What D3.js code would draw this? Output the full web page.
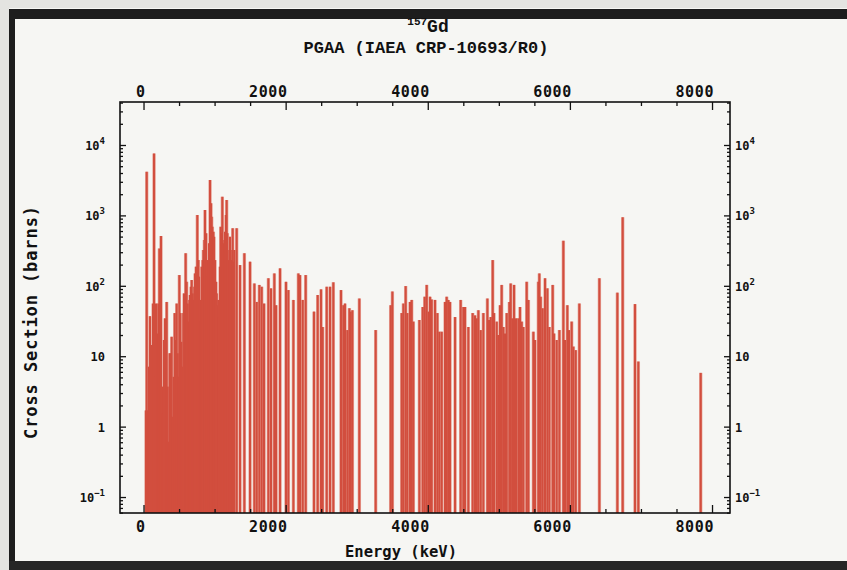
<!DOCTYPE html>
<html><head><meta charset="utf-8">
<script src="https://cdn.jsdelivr.net/npm/d3@7"></script>
<style>
body{margin:0;background:#f6f6f3;}
svg{display:block;}
</style>
</head><body>
<svg id="chart" width="847" height="570"></svg>
<script>
// ---------- data ----------
const isotopeMass = "157";
const isotopeSymbol = "Gd";
const subtitle = "PGAA (IAEA CRP-10693/R0)";
const xTitle = "Energy (keV)";
const yTitle = "Cross Section (barns)";
const xLabelValues = [0, 2000, 4000, 6000, 8000];
const xLabelTexts = ["0", "2000", "4000", "6000", "8000"];
const yLabelValues = [0.1, 1, 10, 100, 1000, 10000];
const yLabelBase = ["10", "1", "10", "10", "10", "10"];
const yLabelExp = ["\u22121", "", "", "2", "3", "4"];

// gamma line energies (keV) and partial cross sections (barns)
const energies = [
  35,45,63,77,91,106,120,134,148,162,176,195,209,223,237,246,260,274,288,303,
  317,326,340,354,368,382,396,410,424,439,453,467,481,495,504,518,532,546,560,570,
  584,593,607,621,631,645,654,668,678,692,701,715,725,739,757,772,781,795,804,819,
  833,842,856,865,880,894,903,913,922,936,950,959,969,983,992,1006,1020,1030,1039,1053,
  1062,1077,1086,1100,1109,1123,1137,1147,1161,1170,1180,1194,1208,1217,1227,1241,1255,1269,1278,
  1311,1358,1419,1499,1560,1593,1630,1663,1696,1757,1794,1841,1865,1921,2005,2038,2109,2179,2202,2240,
  2282,2399,2451,2498,2521,2578,2625,2671,
  2779,2812,2835,2868,2897,2915,2939,3037,3267,3478,3502,3633,3657,3689,3713,3750,3774,3797,3882,3929,
  3957,3985,4013,4032,4055,4102,4135,4163,4196,4243,4266,4290,4313,4384,4463,4501,4524,4571,4632,4665,
  4688,4712,4745,4782,4839,4862,4886,4914,4932,4970,4993,5017,5040,5064,5087,5111,5148,5167,5190,5214,
  5242,5275,5298,5322,5345,5392,5416,5486,5509,5556,5570,5589,5617,5650,5683,5711,5758,5777,5814,5852,
  5908,5932,5964,5988,6025,6049,6082,6133,6415,6668,6743,6916,6963,7841
];
const crossSections = [
  1.7,4180,1.7,7.1,37,14.4,14.4,56,7600,5.1,56,21,56,340,21,510,3.7,1.54,17,34.5,
  17,59,3.7,0.61,11,11,18.9,1.38,5.1,41,17,56,11,5.1,142,41,16,7.1,41,78,
  63,289,114,56,31,63,74,97,121,78,63,97,150,187,1014,232,135,63,31,187,
  232,322,447,1194,556,232,135,232,401,3180,1485,960,692,587,499,232,114,78,53,63,
  36,187,692,556,1845,401,447,587,1014,1655,556,232,322,499,322,232,655,220,322,
  655,197,289,220,108,59,103,97,56,128,92,150,53,177,114,87,63,150,142,63,
  142,43,74,89,26,97,97,112,
  87,53,56,23.5,48,43,45,66,23.5,53,83,41,56,99,41,59,63,31,32.7,50,
  70,103,43,70,64,63,41,22.3,22.3,59,70,63,59,36,63,50,50,26,41,38,
  34.5,45,23.5,41,66,32.7,36,232,41,31,20,53,103,26,21,41,59,108,34.5,103,
  34.5,34.5,50,31,26,114,63,22.3,17,114,150,70,48,128,92,26,103,21,17,23.5,
  437,17,53,23.5,31,13.7,12.2,56,128,80,938,55,8.4,5.8
];

// ---------- layout ----------
const W = 847, H = 570;
const plot = {left: 120, right: 730, top: 102, bottom: 513};
const svg = d3.select("#chart");

// scanned page border
svg.append("rect").attr("x",0).attr("y",0).attr("width",W).attr("height",H).attr("fill","#f6f6f3");
svg.append("rect").attr("x",0).attr("y",0).attr("width",W).attr("height",8).attr("fill","#e4e4e1");
svg.append("rect").attr("x",0).attr("y",0).attr("width",9).attr("height",H).attr("fill","#e4e4e1");
svg.append("rect").attr("x",9).attr("y",9).attr("width",W-9).attr("height",10).attr("fill","#1d1d1d");
svg.append("rect").attr("x",9).attr("y",9).attr("width",6).attr("height",H-9).attr("fill","#1d1d1d");
svg.append("rect").attr("x",9).attr("y",561).attr("width",W-9).attr("height",9).attr("fill","#262626");

const x = d3.scaleLinear().domain([-331, 8253]).range([plot.left, plot.right]);
const y = d3.scaleLog().domain([0.0593, 40800]).range([plot.bottom, plot.top]);

const data = energies.map((e,i)=>({e, v: crossSections[i]}));

// clip
svg.append("clipPath").attr("id","clip").append("rect")
  .attr("x",plot.left).attr("y",plot.top)
  .attr("width",plot.right-plot.left).attr("height",plot.bottom-plot.top);

const gLines = svg.append("g").attr("clip-path","url(#clip)");
gLines.selectAll("line.halo").data(data).join("line")
  .attr("class","halo")
  .attr("x1",d=>x(d.e)).attr("x2",d=>x(d.e))
  .attr("y1",plot.bottom).attr("y2",d=>y(d.v))
  .attr("stroke","#e9aca1").attr("stroke-width",3.4);
gLines.selectAll("line.peak").data(data).join("line")
  .attr("class","peak")
  .attr("x1",d=>x(d.e)).attr("x2",d=>x(d.e))
  .attr("y1",plot.bottom).attr("y2",d=>y(d.v))
  .attr("stroke","#d24e3e").attr("stroke-width",2.1);

// ---------- axes ----------
const majorX = xLabelValues;
const minorX = d3.range(0, 8251, 500).filter(v=>!majorX.includes(v));
const decades = yLabelValues;
const minorY = [];
[-2,-1,0,1,2,3,4].forEach(p=>{ for(let k=2;k<=9;k++){ const v=k*Math.pow(10,p); if(v>=0.0593 && v<=40800) minorY.push(v);} });

function styleAxis(g){
  g.select(".domain").remove();
  g.selectAll(".tick line").attr("stroke","#111").attr("stroke-width",1.3);
}
svg.append("g").attr("transform",`translate(0,${plot.bottom})`)
  .call(d3.axisBottom(x).tickValues(majorX).tickSize(-8).tickFormat("")).call(styleAxis);
svg.append("g").attr("transform",`translate(0,${plot.bottom})`)
  .call(d3.axisBottom(x).tickValues(minorX).tickSize(-4).tickFormat("")).call(styleAxis);
svg.append("g").attr("transform",`translate(0,${plot.top})`)
  .call(d3.axisTop(x).tickValues(majorX).tickSize(-8).tickFormat("")).call(styleAxis);
svg.append("g").attr("transform",`translate(0,${plot.top})`)
  .call(d3.axisTop(x).tickValues(minorX).tickSize(-4).tickFormat("")).call(styleAxis);
svg.append("g").attr("transform",`translate(${plot.left},0)`)
  .call(d3.axisLeft(y).tickValues(decades).tickSize(-6).tickFormat("")).call(styleAxis);
svg.append("g").attr("transform",`translate(${plot.left},0)`)
  .call(d3.axisLeft(y).tickValues(minorY).tickSize(-3).tickFormat("")).call(styleAxis);
svg.append("g").attr("transform",`translate(${plot.right},0)`)
  .call(d3.axisRight(y).tickValues(decades).tickSize(-6).tickFormat("")).call(styleAxis);
svg.append("g").attr("transform",`translate(${plot.right},0)`)
  .call(d3.axisRight(y).tickValues(minorY).tickSize(-3).tickFormat("")).call(styleAxis);

// frame
svg.append("rect").attr("x",plot.left).attr("y",plot.top)
  .attr("width",plot.right-plot.left).attr("height",plot.bottom-plot.top)
  .attr("fill","none").attr("stroke","#111").attr("stroke-width",1.6);

// x tick labels (right-aligned at tick, as in the original plotter)
const tickFont = "'DejaVu Sans Mono', monospace";
[[97],[532]].forEach(([yy])=>{
  svg.append("g").selectAll("text").data(xLabelValues).join("text")
    .attr("x",d=>x(d)+2).attr("y",yy)
    .attr("text-anchor","end")
    .attr("font-family",tickFont).attr("font-weight","bold")
    .attr("font-size",15).attr("letter-spacing",0.6).attr("fill","#111")
    .text((d,i)=>xLabelTexts[i]);
});

// y tick labels
function yLabels(xx, anchor){
  const t = svg.append("g").selectAll("text").data(yLabelValues).join("text")
    .attr("x",xx).attr("y",d=>y(d)+5)
    .attr("text-anchor",anchor)
    .attr("font-family",tickFont).attr("font-weight","bold")
    .attr("font-size",12).attr("fill","#111");
  t.append("tspan").text((d,i)=>yLabelBase[i]);
  t.append("tspan").attr("dy",-6).attr("font-size",9).text((d,i)=>yLabelExp[i]);
}
yLabels(105, "end");
yLabels(735, "start");

// titles
const titleFont = "'Liberation Mono', 'DejaVu Sans Mono', monospace";
const t1 = svg.append("text").attr("x",428).attr("y",32).attr("text-anchor","middle")
  .attr("font-family",titleFont).attr("font-weight","bold").attr("fill","#111");
t1.append("tspan").attr("font-size",11).attr("dy",-7).text(isotopeMass);
t1.append("tspan").attr("font-size",18).attr("dy",7).text(isotopeSymbol);

svg.append("text").attr("x",426).attr("y",53).attr("text-anchor","middle")
  .attr("font-family",titleFont).attr("font-weight","bold")
  .attr("font-size",17).attr("fill","#111").text(subtitle);

svg.append("text").attr("x",401).attr("y",557).attr("text-anchor","middle")
  .attr("font-family",tickFont).attr("font-weight","bold")
  .attr("font-size",15.5).attr("fill","#111").text(xTitle);

svg.append("text").attr("transform","translate(37,322) rotate(-90)")
  .attr("text-anchor","middle")
  .attr("font-family",tickFont).attr("font-weight","bold")
  .attr("font-size",17).attr("letter-spacing",0.9).attr("fill","#111").text(yTitle);
</script>
</body></html>
